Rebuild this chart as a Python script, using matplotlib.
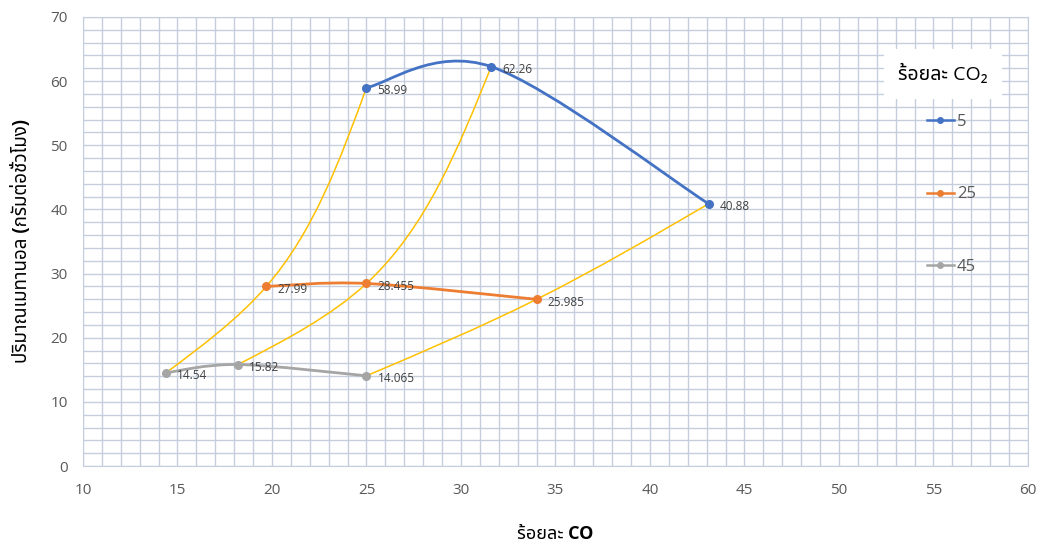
import matplotlib
matplotlib.use("Agg")
import matplotlib.pyplot as plt
from matplotlib import font_manager
from matplotlib.ft2font import FT2Font
from matplotlib.path import Path
from matplotlib.patches import PathPatch
from matplotlib.lines import Line2D
from matplotlib.ticker import MultipleLocator

# Data: CO % (x) vs methanol yield (y) for three CO2 levels
co2_levels = ["5", "25", "45"]
co_5 = [25.0, 31.6, 43.1]
meoh_5 = [58.99, 62.26, 40.88]
co_25 = [19.7, 25.0, 34.0]
meoh_25 = [27.99, 28.455, 25.985]
co_45 = [14.4, 18.2, 25.0]
meoh_45 = [14.54, 15.82, 14.065]
labels_5 = ["58.99", "62.26", "40.88"]
labels_25 = ["27.99", "28.455", "25.985"]
labels_45 = ["14.54", "15.82", "14.065"]

colors = ["#4472C4", "#ED7D31", "#A5A5A5"]
yellow = "#FFC000"


def find_thai_font():
    found = []
    for f in font_manager.fontManager.ttflist:
        try:
            cmap = FT2Font(f.fname).get_charmap()
        except Exception:
            continue
        if 0x0E23 in cmap and 0x0E49 in cmap and 0x0E2D in cmap:
            found.append(f.name)
    for pref in ["Noto Sans Thai", "Noto Sans Thai UI", "Sarabun", "Loma", "Garuda", "Umpush"]:
        if pref in found:
            return pref
    return found[0] if found else None


thai = find_thai_font()
families = ["Open Sans"] + ([thai] if thai else []) + ["DejaVu Sans"]
plt.rcParams["font.family"] = families


def smooth_path(xs, ys):
    # Excel-like smoothed line: cubic Bezier segments (Catmull-Rom control points)
    pts = list(zip(xs, ys))
    n = len(pts)
    verts = [pts[0]]
    codes = [Path.MOVETO]
    for i in range(n - 1):
        p0 = pts[max(i - 1, 0)]
        p1 = pts[i]
        p2 = pts[i + 1]
        p3 = pts[min(i + 2, n - 1)]
        c1 = (p1[0] + (p2[0] - p0[0]) / 6, p1[1] + (p2[1] - p0[1]) / 6)
        c2 = (p2[0] - (p3[0] - p1[0]) / 6, p2[1] - (p3[1] - p1[1]) / 6)
        verts += [c1, c2, p2]
        codes += [Path.CURVE4] * 3
    return Path(verts, codes)


def freehand_path(xs, ys, sx, sy):
    # three-point natural spline, chord-length parameter measured on screen
    p = list(zip(xs, ys))
    h0 = ((sx * (xs[1] - xs[0])) ** 2 + (sy * (ys[1] - ys[0])) ** 2) ** 0.5
    h1 = ((sx * (xs[2] - xs[1])) ** 2 + (sy * (ys[2] - ys[1])) ** 2) ** 0.5
    d = []
    for k in range(2):
        v = [q[k] for q in p]
        s0 = (v[1] - v[0]) / h0
        s1 = (v[2] - v[1]) / h1
        m1 = 3 * (s1 - s0) / (h0 + h1)
        d.append((s0 - h0 * m1 / 6, s0 + h0 * m1 / 3, s1 + h1 * m1 / 6))
    der = list(zip(d[0], d[1]))
    hs = [h0, h1]
    verts = [p[0]]
    codes = [Path.MOVETO]
    for i in range(2):
        h = hs[i]
        c1 = (p[i][0] + der[i][0] * h / 3, p[i][1] + der[i][1] * h / 3)
        c2 = (p[i + 1][0] - der[i + 1][0] * h / 3, p[i + 1][1] - der[i + 1][1] * h / 3)
        verts += [c1, c2, p[i + 1]]
        codes += [Path.CURVE4] * 3
    return Path(verts, codes)


fig = plt.figure(figsize=(10.41, 5.46), dpi=100)
ax = fig.add_axes([0.0797, 0.1465, 0.9078, 0.8224])

ax.set_xlim(10, 60)
ax.set_ylim(0, 70)
ax.xaxis.set_major_locator(MultipleLocator(5))
ax.xaxis.set_minor_locator(MultipleLocator(1))
ax.yaxis.set_major_locator(MultipleLocator(10))
ax.yaxis.set_minor_locator(MultipleLocator(2))
grid_c = "#C5CEDD"
ax.grid(True, which="both", color=grid_c, linewidth=1.0)
ax.set_axisbelow(True)
for s in ax.spines.values():
    s.set_color(grid_c)
ax.tick_params(which="both", length=0, labelsize=11, labelcolor="#595959")
ax.tick_params(axis="x", pad=12)
ax.tick_params(axis="y", pad=11)

sx = ax.bbox.width / 50.0
sy = ax.bbox.height / 70.0

series = [
    (co_5, meoh_5, labels_5),
    (co_25, meoh_25, labels_25),
    (co_45, meoh_45, labels_45),
]

# yellow connectors between matching points of the three series
for i in range(3):
    xs = [co_45[i], co_25[i], co_5[i]]
    ys = [meoh_45[i], meoh_25[i], meoh_5[i]]
    ax.add_patch(PathPatch(freehand_path(xs, ys, sx, sy), facecolor="none",
                           edgecolor=yellow, linewidth=1.1, zorder=2))

for (xs, ys, labs), c in zip(series, colors):
    ax.add_patch(PathPatch(smooth_path(xs, ys), facecolor="none",
                           edgecolor=c, linewidth=2.0, zorder=3))
    ax.plot(xs, ys, "o", color=c, markersize=5.5, zorder=4)
    for x, y, t in zip(xs, ys, labs):
        ax.annotate(t, (x, y), xytext=(8, -2), textcoords="offset points",
                    ha="left", va="center", fontsize=8.5, color="#404040", zorder=5)

ax.set_xlabel("ร้อยละ CO", fontsize=13, fontweight="bold", labelpad=20)
ax.set_ylabel("ปริมาณเมทานอล (กรัมต่อชั่วโมง)", fontsize=13.5, fontweight="bold", labelpad=13)

# legend title box and entries
ax.text(0.910, 0.873, "ร้อยละ CO₂", transform=ax.transAxes, ha="center", va="center",
        fontsize=14, color="#000000",
        bbox=dict(boxstyle="square,pad=0.75", facecolor="white", edgecolor="none"), zorder=6)
handles = [Line2D([], [], color=c, marker="o", markersize=4, linewidth=1.8) for c in colors]
ax.legend(handles, co2_levels, loc="upper center", bbox_to_anchor=(0.919, 0.817),
          frameon=False, fontsize=12, labelcolor="#595959", handlelength=1.6,
          handletextpad=0.2, labelspacing=3.38)

fig.savefig("out.png", dpi=100)
